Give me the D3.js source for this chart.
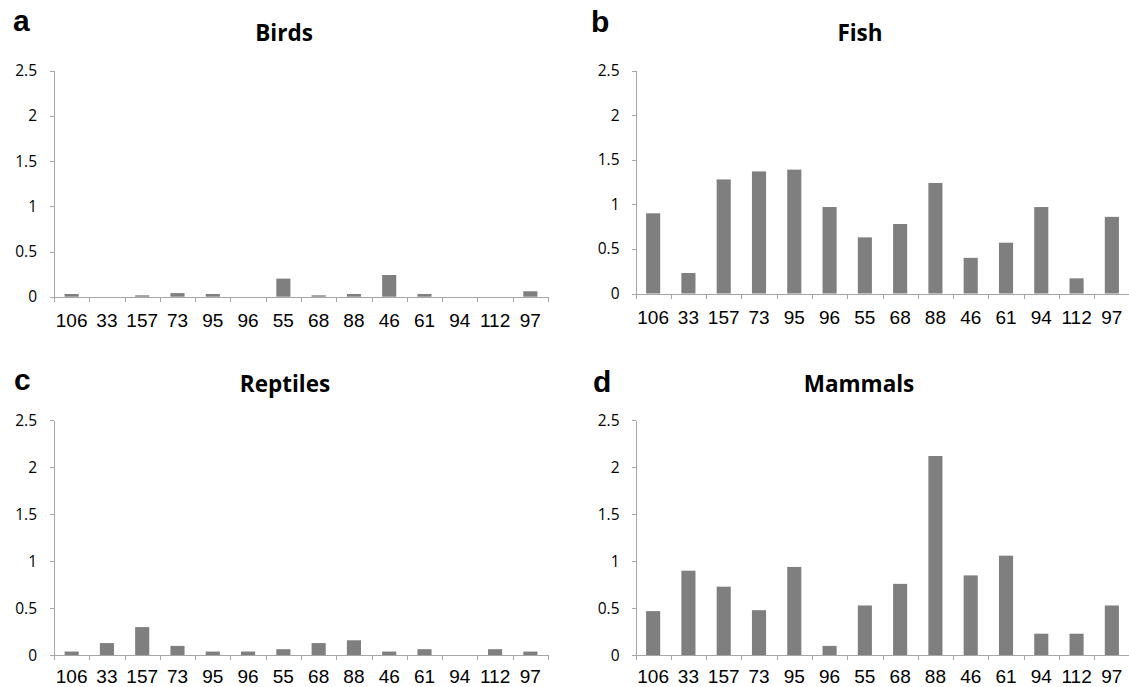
<!DOCTYPE html>
<html>
<head>
<meta charset="utf-8">
<script src="https://cdn.jsdelivr.net/npm/d3@7"></script>
<style>
  body { margin: 0; background: #fff; }
  svg { display: block; }
  .axis path, .axis line { stroke: #a6a6a6; shape-rendering: crispEdges; }
</style>
</head>
<body>
<svg id="chart" width="1129" height="687"></svg>
<script>
var categories = ["106", "33", "157", "73", "95", "96", "55", "68", "88", "46", "61", "94", "112", "97"];

var birds    = [0.03, 0, 0.015, 0.04, 0.03, 0, 0.20, 0.015, 0.03, 0.24, 0.03, 0, 0, 0.06];
var fish     = [0.90, 0.23, 1.28, 1.37, 1.39, 0.97, 0.63, 0.78, 1.24, 0.40, 0.57, 0.97, 0.17, 0.86];
var reptiles = [0.04, 0.13, 0.30, 0.10, 0.04, 0.04, 0.065, 0.13, 0.16, 0.04, 0.065, 0, 0.065, 0.04];
var mammals  = [0.47, 0.90, 0.73, 0.48, 0.94, 0.10, 0.53, 0.76, 2.12, 0.85, 1.06, 0.23, 0.23, 0.53];

var yTicks = [0, 0.5, 1, 1.5, 2, 2.5];

var panels = [
  { letter: "a", title: "Birds",    values: birds,    left: 54,    right: 548,    top: 70.7,  bottom: 296.7, labY: 30.5, tx: 284, ty: 41,  lx: 13,  ly: 31,  gap: 17 },
  { letter: "b", title: "Fish",     values: fish,     left: 635.5, right: 1129.5, top: 70.7,  bottom: 293.5, labY: 30,   tx: 860, ty: 41,  lx: 591, ly: 32,  gap: 16 },
  { letter: "c", title: "Reptiles", values: reptiles, left: 54,    right: 548,    top: 420.3, bottom: 655.3, labY: 28,   tx: 285, ty: 392, lx: 14,  ly: 390, gap: 17 },
  { letter: "d", title: "Mammals",  values: mammals,  left: 635.5, right: 1129.5, top: 420.3, bottom: 655.3, labY: 28,   tx: 859, ty: 392, lx: 593, ly: 392, gap: 16 }
];

var svg = d3.select("#chart");

panels.forEach(function (p) {
  var g = svg.append("g");

  var y = d3.scaleLinear().domain([0, 2.5]).range([p.bottom, p.top]);
  var x = d3.scaleBand().domain(categories).range([p.left, p.right])
    .paddingInner(0.6).paddingOuter(0.3);
  // category boundaries for the tick marks
  var edge = d3.scaleLinear().domain([0, categories.length]).range([p.left, p.right]);

  g.selectAll(".bar")
    .data(p.values)
    .enter().append("rect")
    .attr("class", "bar")
    .attr("x", function (d, i) { return x(categories[i]); })
    .attr("y", function (d) { return y(d); })
    .attr("width", x.bandwidth())
    .attr("height", function (d) { return p.bottom - y(d); })
    .attr("fill", "#7f7f7f");

  // x axis line + boundary ticks
  g.append("g")
    .attr("class", "axis")
    .attr("transform", "translate(0," + p.bottom + ")")
    .call(d3.axisBottom(edge).tickValues(d3.range(categories.length + 1))
      .tickSize(5).tickSizeOuter(0).tickFormat(""));

  // x category labels
  var xl = g.append("g")
    .attr("transform", "translate(0," + p.bottom + ")")
    .call(d3.axisBottom(x).tickSize(0));
  xl.select(".domain").remove();
  xl.selectAll("text")
    .attr("y", p.labY).attr("dy", 0)
    .attr("fill", "#000")
    .attr("font-family", "'Liberation Sans', Arial, sans-serif")
    .attr("font-size", "19px");

  // y axis
  var ya = g.append("g")
    .attr("class", "axis")
    .attr("transform", "translate(" + p.left + ",0)")
    .call(d3.axisLeft(y).tickValues(yTicks).tickSize(4).tickSizeOuter(0)
      .tickPadding(p.gap - 4).tickFormat(function (d) { return String(d); }));
  ya.selectAll("text")
    .attr("fill", "#000")
    .attr("font-family", "'Open Sans', sans-serif")
    .attr("font-size", "15.5px");

  g.append("text")
    .attr("x", p.tx)
    .attr("y", p.ty)
    .attr("text-anchor", "middle")
    .attr("font-family", "'Open Sans', sans-serif")
    .attr("font-size", "22.5px")
    .attr("font-weight", "bold")
    .text(p.title);

  g.append("text")
    .attr("x", p.lx)
    .attr("y", p.ly)
    .attr("font-family", "'Liberation Sans', Arial, sans-serif")
    .attr("font-size", "30px")
    .attr("font-weight", "bold")
    .text(p.letter);
});
</script>
</body>
</html>
